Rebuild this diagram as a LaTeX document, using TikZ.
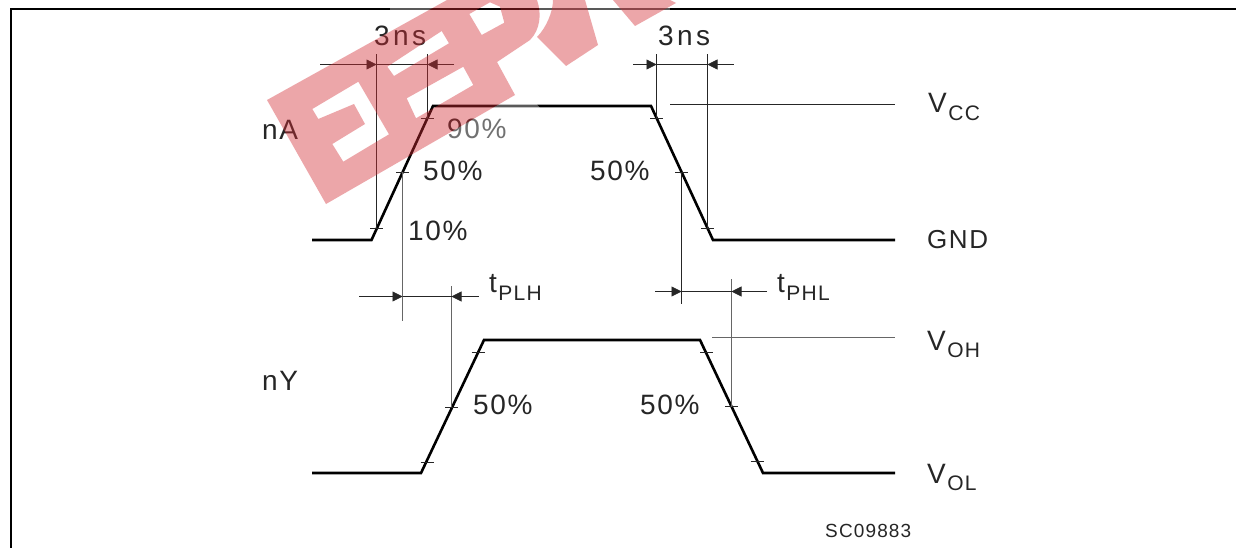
\documentclass[tikz,border=0pt]{standalone}
\usepackage{fontspec}
\setmainfont[LetterSpace=6]{Liberation Sans}
\usetikzlibrary{arrows.meta}
\definecolor{markred}{HTML}{D42B34}
\newcommand{\lowsub}[1]{\hspace{1.5pt}\raisebox{-7.5pt}{\fontsize{21}{24}\selectfont #1}}
\tikzset{
  trace/.style={line width=2.6pt, line join=miter},
  guide/.style={line width=0.8pt, black!85},
  tickmark/.style={line width=0.7pt, black!85},
  dimarrow/.style={line width=0.7pt, black!85, -{Triangle[length=10pt,width=10pt]}},
  lab/.style={anchor=base west, inner sep=0pt, text=black!85, font=\fontsize{28}{30}\selectfont},
  widelab/.style={lab, font={\fontsize{28}{30}\selectfont\addfontfeature{LetterSpace=12}}},
  codelab/.style={anchor=base west, inner sep=0pt, text=black!85, font=\fontsize{19}{22}\selectfont},
  markfill/.style={fill=markred, fill opacity=0.42, even odd rule},
  markglow/.style={fill=white, fill opacity=0.35},
  markband/.style={insert path={(267,100) -- (447,0) -- (537,0) .. controls (542,14) and (540,30) .. (530,40) -- (497,62) -- (515,95) -- (326,204) -- cycle}},
}
\begin{document}
\begin{tikzpicture}[x=1pt,y=-1pt]
\useasboundingbox (0,0) rectangle (1236,548);
\fill[white] (0,0) rectangle (1236,548);
\draw[line width=2pt] (10.5,548) -- (10.5,9.5) -- (1236,9.5);
% input trace
\draw[trace] (312,240) -- (371.5,240) -- (433,106) -- (651,106) -- (713,240) -- (895,240);
\coordinate (a90) at (427.5,118.5);
\coordinate (a50) at (402.5,172);
\coordinate (a10) at (376.5,228);
\coordinate (b90) at (656.5,118.5);
\coordinate (b50) at (681.5,172.5);
\coordinate (b10) at (707.5,228);
% output trace
\draw[trace] (312,473) -- (421,473) -- (484,340) -- (700,340) -- (763,473) -- (895,473);
\coordinate (c90) at (478,352);
\coordinate (c50) at (451.5,407);
\coordinate (c10) at (427,462);
\coordinate (d90) at (706.5,352);
\coordinate (d50) at (731.5,406.5);
\coordinate (d10) at (757,461.5);
\foreach \pt in {a90,a50,a10,b90,b50,b10,c90,c50,c10,d90,d50,d10}
  \draw[tickmark] ([xshift=-6.5pt]\pt) -- ([xshift=6.5pt]\pt);
% level lines
\draw[guide] (670,104.5) -- (895,104.5);
\draw[guide, black!60] (712,337.5) -- (895,337.5);
% guides
\coordinate (top1) at (a10 |- 0,54);
\coordinate (top2) at (a90 |- 0,54);
\coordinate (top3) at (b90 |- 0,54);
\coordinate (top4) at (b10 |- 0,54);
\coordinate (low1) at (a50 |- 0,320.5);
\coordinate (low2) at (c50 |- 0,286);
\coordinate (low3) at (b50 |- 0,304);
\coordinate (low4) at (d50 |- 0,279);
\draw[guide] (a10) -- (top1);
\draw[guide] (a90) -- (top2);
\draw[guide] (b90) -- (top3);
\draw[guide] (b10) -- (top4);
\draw[guide, black!60] (a50) -- (low1);
\draw[guide, black!60] (c50) -- (low2);
\draw[guide] (b50) -- (low3);
\draw[guide, black!60] (d50) -- (low4);
% dimensions
\coordinate (e1) at (a10 |- 0,64.5);
\coordinate (e2) at (a90 |- 0,64.5);
\coordinate (e3) at (b90 |- 0,64.5);
\coordinate (e4) at (b10 |- 0,64.5);
\coordinate (f1) at (a50 |- 0,296.5);
\coordinate (f2) at (c50 |- 0,296.5);
\coordinate (g1) at (b50 |- 0,291.5);
\coordinate (g2) at (d50 |- 0,291.5);
\draw[dimarrow] (320,64.5) -- (e1);
\draw[dimarrow] (454,64.5) -- (e2);
\draw[tickmark] (e1) -- (e2);
\draw[dimarrow] (633,64.5) -- (e3);
\draw[dimarrow] (733.5,64.5) -- (e4);
\draw[tickmark] (e3) -- (e4);
\draw[dimarrow] (359,296.5) -- (f1);
\draw[dimarrow] (478.5,296.5) -- (f2);
\draw[tickmark] (f1) -- (f2);
\draw[dimarrow] (655,291.5) -- (g1);
\draw[dimarrow] (767,291.5) -- (g2);
\draw[tickmark] (g1) -- (g2);
% labels
\node[widelab] (ns1) at (374,46) {3ns};
\node[widelab] (ns2) at (658,46) {3ns};
\node[lab] (inA) at (262,140) {nA};
\node[lab] (outY) at (262,390) {nY};
\node[lab] (p90) at (447,139) {90\%};
\node[lab] (p50a) at (423,181) {50\%};
\node[lab] (p50b) at (590,181) {50\%};
\node[lab] (p10) at (408,240) {10\%};
\node[lab] (p50c) at (473,414) {50\%};
\node[lab] (p50d) at (640,414) {50\%};
\node[lab] (tplh) at (489,292.5) {t\lowsub{PLH}};
\node[lab] (tphl) at (777,292.5) {t\lowsub{PHL}};
\node[lab] (vcc) at (928,113) {V\lowsub{CC}};
\node[lab, font=\fontsize{26}{30}\selectfont] (gnd) at (927,248) {GND};
\node[lab] (voh) at (927,350) {V\lowsub{OH}};
\node[lab] (vol) at (927,483) {V\lowsub{OL}};
\node[codelab] (code) at (825,537.5) {SC09883};
% watermark
\begin{scope}[even odd rule]
\clip (0,0) rectangle (1236,548) (267,100) -- (447,0) -- (537,0) .. controls (542,14) and (540,30) .. (530,40) -- (497,62) -- (515,95) -- (326,204) -- cycle;
\fill[markglow] (438,100) -- (500,60) -- (540,108) -- (510,145) -- (440,145) -- cycle;
\fill[markglow] (390,0) rectangle (670,14);
\end{scope}
\fill[markfill, markband]
  (312.3,109) -- (358.3,81.7) -- (389,134.3) -- (343.3,161.7) -- (332.3,144) -- (365,124) -- (354,104) -- (318.3,119) -- cycle
  (387.3,66.7) -- (441.7,31) -- (449,43.3) -- (394,76) -- cycle
  (406.7,98.3) -- (463.3,66.7) -- (473.3,85) -- (416,118.3) -- cycle
  (469.3,14) -- (490,2.3) -- (500,6.7) -- (504.3,22.7) -- (481.7,35) -- cycle;
\fill[markfill] (537,37) -- (566,66) -- (598,45) -- (585,0) -- (553,0) .. controls (553,12) and (546,28) .. cycle;
\fill[markfill] (613,0) -- (635,26) -- (676,3) -- (670,0) -- cycle;
\end{tikzpicture}
\end{document}
